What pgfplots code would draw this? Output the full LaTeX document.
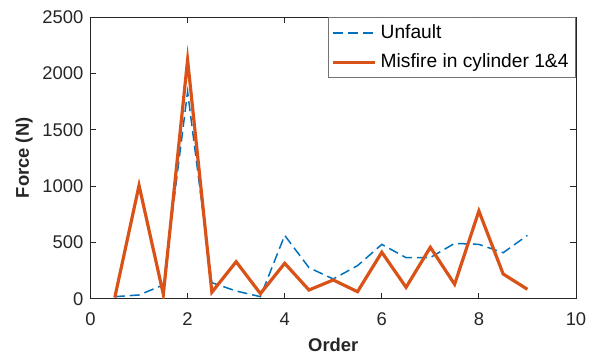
\documentclass[border=0pt]{standalone}
\usepackage{fontspec}
\setmainfont{Liberation Sans}
\usepackage{pgfplots}
\pgfplotsset{compat=1.18}
\definecolor{mblue}{rgb}{0,0.447,0.741}
\definecolor{morange}{rgb}{0.85,0.325,0.098}
\definecolor{axgray}{rgb}{0.15,0.15,0.15}
\begin{document}
\begin{tikzpicture}
\begin{axis}[
  name=ax,
  scale only axis,
  width=242.75pt, height=140.85pt,
  xmin=0, xmax=10, ymin=0, ymax=2500,
  xtick={0,2,...,10}, ytick={0,500,...,2500},
  tick align=inside,
  major tick length=2.8pt,
  axis line style={axgray, line width=0.4pt},
  every tick/.style={axgray, line width=0.4pt},
  tick label style={font=\fontsize{9.2}{10}\selectfont, text=axgray},
  xticklabel style={yshift=-3.5pt},
  /pgf/number format/assume math mode=true,
  /pgf/number format/1000 sep={},
  scaled y ticks=false,
  xlabel={\textbf{Order}},
  ylabel={\textbf{Force (N)}},
  label style={font=\fontsize{9.2}{10}\selectfont, text=axgray},
  xlabel style={yshift=0.5pt},
  ylabel style={yshift=-2pt},
  legend style={at={(1,1)}, anchor=north east, draw=black!55, line width=0.5pt,
    font=\fontsize{9.6}{13}\selectfont, inner sep=1.5pt, row sep=2.2pt, cells={anchor=west}},
  legend cell align=left,
  legend image code/.code={\draw[#1] (0cm,0cm) -- (0.74cm,0cm);},
]
\addplot[mblue, line width=0.75pt, dash pattern=on 5pt off 2.5pt] coordinates {
(0.5,18) (1,33) (1.5,122) (2,1837) (2.5,142) (3,68) (3.5,18) (4,562) (4.5,275)
(5,175) (5.5,293) (6,482) (6.5,364) (7,365) (7.5,491) (8,482) (8.5,408) (9,562)};
\addlegendentry{Unfault}
\addplot[morange, line width=1.6pt] coordinates {
(0.5,10) (1,1005) (1.5,39) (2,2118) (2.5,57) (3,328) (3.5,45) (4,314) (4.5,77)
(5,166) (5.5,62) (6,412) (6.5,101) (7,456) (7.5,128) (8,778) (8.5,219) (9,83)};
\addlegendentry{Misfire in cylinder 1\&4}
\end{axis}
\pgfresetboundingbox
\path (ax.south west) ++(-45.25pt,-28.65pt) rectangle ++(298pt,178pt);
\end{tikzpicture}
\end{document}
